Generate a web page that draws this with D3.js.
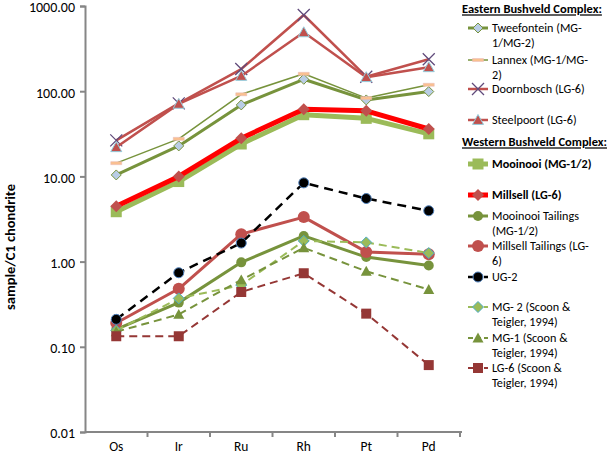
<!DOCTYPE html>
<html>
<head>
<meta charset="utf-8">
<script src="https://cdn.jsdelivr.net/npm/d3@7/dist/d3.min.js"></script>
<style>
  html, body { margin: 0; padding: 0; background: #fff; }
  svg { display: block; font-family: Carlito, Calibri, Lato, "Open Sans", sans-serif; }
</style>
</head>
<body>
<svg id="chart" width="609" height="458"></svg>
<script>
// ---------- data ----------
const categories = ["Os", "Ir", "Ru", "Rh", "Pt", "Pd"];
const yTickValues = [0.01, 0.1, 1, 10, 100, 1000];

const tweefontein      = [10.4, 22.8, 69, 138, 79, 99];
const lannex           = [14.3, 27.6, 92, 160, 83, 119];
const doornbosch       = [26.5, 72, 182, 784, 148, 237];
const steelpoort       = [22, 71, 151, 491, 146, 191];
const mooinooi         = [3.85, 8.7, 24, 53, 48, 31.6];
const millsell         = [4.45, 10, 28, 61.5, 58.8, 36];
const mooinooiTailings = [0.16, 0.33, 0.98, 2.0, 1.13, 0.9];
const millsellTailings = [0.19, 0.48, 2.1, 3.33, 1.3, 1.22];
const ug2              = [0.21, 0.74, 1.65, 8.4, 5.5, 3.95];
const mg2Scoon         = [0.155, 0.37, 0.53, 1.75, 1.68, 1.26];
const mg1Scoon         = [0.15, 0.24, 0.61, 1.45, 0.77, 0.47];
const lg6Scoon         = [0.133, 0.133, 0.44, 0.73, 0.245, 0.061];

const seriesNames = [
  ["Tweefontein (MG-", "1/MG-2)"],
  ["Lannex (MG-1/MG-", "2)"],
  ["Doornbosch (LG-6)"],
  ["Steelpoort (LG-6)"],
  ["Mooinooi (MG-1/2)"],
  ["Millsell (LG-6)"],
  ["Mooinooi Tailings", "(MG-1/2)"],
  ["Millsell Tailings (LG-", "6)"],
  ["UG-2"],
  ["MG- 2 (Scoon &", "Teigler, 1994)"],
  ["MG-1 (Scoon &", "Teigler, 1994)"],
  ["LG-6 (Scoon &", "Teigler, 1994)"]
];
const headers = ["Eastern Bushveld Complex:", "Western Bushveld Complex:"];
const yTitle = "sample/C1 chondrite";

// ---------- styles ----------
const styles = [
  {values: tweefontein, line: "#77933C", lw: 3, dash: null, marker: "diamond", size: 10, fill: "#B9CDE5", stroke: "#77933C", sw: 1},
  {values: lannex, line: "#77933C", lw: 1.5, dash: null, marker: "dash", size: 11, fill: "#FAC090", stroke: "#E6B9B8", sw: 0.5},
  {values: doornbosch, line: "#C0504D", lw: 2.5, dash: null, marker: "x", size: 12, fill: "none", stroke: "#604A7B", sw: 1.3},
  {values: steelpoort, line: "#C0504D", lw: 2.5, dash: null, marker: "triangle", size: 11, fill: "#C0504D", stroke: "#93CDDD", sw: 1},
  {values: mooinooi, line: "#9BBB59", lw: 5, dash: null, marker: "square", size: 11, fill: "#9BBB59", stroke: "#9BBB59", sw: 0},
  {values: millsell, line: "#FF0000", lw: 5, dash: null, marker: "diamond", size: 12, fill: "#C0504D", stroke: "#C0504D", sw: 0},
  {values: mooinooiTailings, line: "#77933C", lw: 3, dash: null, marker: "circle", size: 10, fill: "#77933C", stroke: "#77933C", sw: 0},
  {values: millsellTailings, line: "#C0504D", lw: 3, dash: null, marker: "circle", size: 12, fill: "#C0504D", stroke: "#C0504D", sw: 0},
  {values: ug2, line: "#000000", lw: 2.5, dash: "9,6", marker: "circle", size: 10, fill: "#000000", stroke: "#4F81BD", sw: 1},
  {values: mg2Scoon, line: "#9BBB59", lw: 2, dash: "8,5", marker: "diamond", size: 11, fill: "#9BBB59", stroke: "#4BACC6", sw: 1},
  {values: mg1Scoon, line: "#77933C", lw: 2, dash: "8,5", marker: "triangle", size: 11, fill: "#77933C", stroke: "#77933C", sw: 0},
  {values: lg6Scoon, line: "#953735", lw: 2, dash: "8,5", marker: "square", size: 10, fill: "#953735", stroke: "#953735", sw: 0}
];
const boldSeries = [4, 5];

// ---------- layout ----------
const svg = d3.select("#chart");
const x0 = 85, x1 = 460, yTop = 6, yBot = 432;

const x = d3.scaleBand().domain(categories).range([x0, x1]).padding(0);
const y = d3.scaleLog().domain([0.01, 1000]).range([yBot, yTop]);
const cx = c => x(c) + x.bandwidth() / 2;

function markerPath(type, s) {
  const h = s / 2;
  switch (type) {
    case "diamond": return `M0,${-h}L${h},0L0,${h}L${-h},0Z`;
    case "square": return `M${-h},${-h}H${h}V${h}H${-h}Z`;
    case "triangle": return `M0,${-h}L${h},${h * 0.8}L${-h},${h * 0.8}Z`;
    case "circle": return d3.arc()({innerRadius: 0, outerRadius: h, startAngle: 0, endAngle: 2 * Math.PI});
    case "x": return `M${-h},${-h}L${h},${h}M${h},${-h}L${-h},${h}`;
    case "dash": return `M${-h},-1.5H${h}V1.5H${-h}Z`;
  }
}

// axes
const axisColor = "#868686";
const fontStack = "Carlito, Calibri, Lato, sans-serif";
const yAxis = d3.axisLeft(y).tickValues(yTickValues).tickFormat(d3.format(".2f")).tickSize(5).tickPadding(5);
const gy = svg.append("g").attr("transform", `translate(${x0},0)`).call(yAxis);
gy.select(".domain").attr("stroke", axisColor).attr("stroke-width", 2);
gy.selectAll(".tick line").attr("stroke", axisColor).attr("stroke-width", 2);
gy.selectAll(".tick text").attr("font-size", 14).attr("fill", "#000").attr("dy", "0.42em")
  .style("font-family", fontStack);

const xAxis = d3.axisBottom(x).tickSize(0).tickPadding(9);
const gx = svg.append("g").attr("transform", `translate(0,${yBot})`).call(xAxis);
gx.select(".domain").attr("stroke", axisColor).attr("stroke-width", 2).attr("d", `M${x0},0H${x1 + 2}`);
gx.selectAll(".tick text").attr("font-size", 13.5).attr("fill", "#000")
  .style("font-family", fontStack);
// band-boundary tick marks
gx.selectAll(".bt").data(categories.slice(1).map(c => x(c)).concat([x1]))
  .enter().append("line")
  .attr("x1", d => d).attr("x2", d => d).attr("y1", 0).attr("y2", 5)
  .attr("stroke", axisColor).attr("stroke-width", 2);

// y title
svg.append("text")
  .attr("transform", `translate(15,247) rotate(-90)`)
  .attr("text-anchor", "middle").attr("font-weight", "bold").attr("font-size", 14.5)
  .text(yTitle);

// series
const line = d3.line().x((d, i) => cx(categories[i])).y(d => y(d));
styles.forEach(s => {
  const g = svg.append("g");
  g.append("path").attr("d", line(s.values)).attr("fill", "none")
    .attr("stroke", s.line).attr("stroke-width", s.lw)
    .attr("stroke-dasharray", s.dash).attr("stroke-linejoin", "round");
  g.selectAll("path.m").data(s.values).enter().append("path").attr("class", "m")
    .attr("transform", (d, i) => `translate(${cx(categories[i])},${y(d)})`)
    .attr("d", markerPath(s.marker, s.size))
    .attr("fill", s.fill).attr("stroke", s.stroke).attr("stroke-width", s.sw);
});

// legend
const legendX = 462, textX = 492, markX = 478;
const headerY = [9, 142];
const entryY = [28, 60, 89, 120, 164, 195, 216, 246, 277, 307, 338, 368];
const lineH = 15.2;
headers.forEach((h, i) => {
  svg.append("text").attr("x", legendX).attr("y", headerY[i]).attr("dy", "0.35em")
    .attr("font-weight", "bold").attr("font-size", 12.5)
    .attr("text-decoration", "underline").text(h);
});
styles.forEach((s, i) => {
  const g = svg.append("g").attr("transform", `translate(0,${entryY[i]})`);
  g.append("path").attr("d", `M${markX - 10},0H${markX + 10}`).attr("stroke", s.line)
    .attr("stroke-width", s.lw).attr("stroke-dasharray", s.dash ? "5,3" : null);
  g.append("path").attr("transform", `translate(${markX},0)`)
    .attr("d", markerPath(s.marker, s.size)).attr("fill", s.fill)
    .attr("stroke", s.stroke).attr("stroke-width", s.sw);
  const t = g.append("text").attr("x", textX).attr("y", 0).attr("font-size", 12.2)
    .attr("font-weight", boldSeries.includes(i) ? "bold" : null);
  seriesNames[i].forEach((ln, j) => {
    t.append("tspan").attr("x", textX).attr("y", j * lineH).attr("dy", "0.35em").text(ln);
  });
});
</script>
</body>
</html>
